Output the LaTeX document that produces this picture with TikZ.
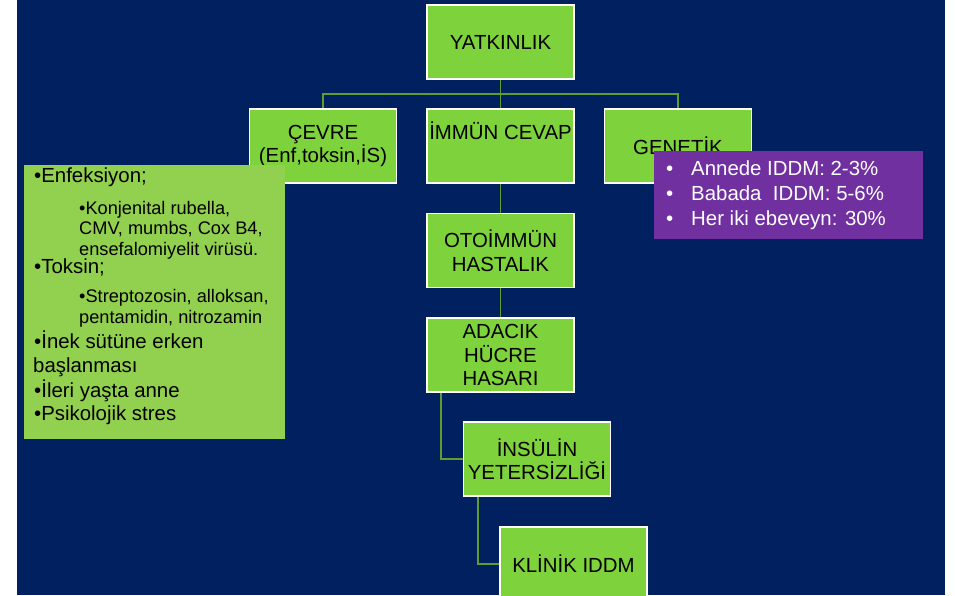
\documentclass[tikz,border=0pt]{standalone}
\usepackage{fontspec}
\setmainfont{Liberation Sans}
\usetikzlibrary{backgrounds}
\definecolor{navy}{HTML}{002060}
\definecolor{boxgreen}{HTML}{7ED23C}
\definecolor{txtgreen}{HTML}{92D050}
\definecolor{linegreen}{HTML}{5E9E2E}
\definecolor{purp}{HTML}{7030A0}
\begin{document}
\begin{tikzpicture}[x=1pt,y=-1pt,
  box/.style={draw=white, line width=1.6pt, fill=boxgreen, minimum width=147pt, minimum height=74pt, inner sep=0pt, align=center, text=black, font=\fontsize{20.4}{23.5}\selectfont},
  conn/.style={draw=linegreen, line width=1.8pt},
  big/.style={anchor=base west, inner sep=0pt, text=black, font=\fontsize{20.4}{24}\selectfont},
  small/.style={anchor=base west, inner sep=0pt, text=black, font=\fontsize{18.2}{20}\selectfont},
  ptxt/.style={anchor=base west, inner sep=0pt, text=white, font=\fontsize{20.4}{24}\selectfont}]
\useasboundingbox (0,0) rectangle (955,595);

% boxes
\node[box] (yat) at (500.5,42) {YATKINLIK};
\node[box] (cevre) at (323,146) {ÇEVRE\\(Enf,toksin,İS)};
\node[box] (immun) at (500.5,146) {İMMÜN CEVAP\\\strut};
\node[box] (gen) at (678,146) {GENETİK};
\node[box] (oto) at (500.5,250.5) {OTOİMMÜN\\HASTALIK};
\node[box] (ada) at (500.5,355) {ADACIK\\HÜCRE\\HASARI};
\node[box] (ins) at (537,459) {İNSÜLİN\\YETERSİZLİĞİ};
\node[box] (kli) at (573.5,564) {KLİNİK IDDM};

% left text box
\node[fill=txtgreen, anchor=north west, minimum width=261pt, minimum height=274pt, inner sep=0pt] (lbox) at (24,165) {};
\node[big] (l1) at (34,182) {•Enfeksiyon;};
\node[small] (l2) at (79,214.5) {•Konjenital rubella,};
\node[small] (l3) at (79,234.5) {CMV, mumbs, Cox B4,};
\node[small] (l4) at (79,255) {ensefalomiyelit virüsü.};
\node[big] (l5) at (34,273) {•Toksin;};
\node[small] (l6) at (79,302.5) {•Streptozosin, alloksan,};
\node[small] (l7) at (79,323) {pentamidin, nitrozamin};
\node[big] (l8) at (34,348) {•İnek sütüne erken};
\node[big] (l9) at (33,372) {başlanması};
\node[big] (l10) at (34,397) {•İleri yaşta anne};
\node[big] (l11) at (34,420) {•Psikolojik stres};

% purple box
\node[fill=purp, anchor=north west, minimum width=269pt, minimum height=88pt, inner sep=0pt] (pbox) at (654,151) {};
\node[ptxt] (b1) at (666,175) {•};
\node[ptxt] (p1) at (691,175) {Annede IDDM: 2-3\%};
\node[ptxt] (b2) at (666,200) {•};
\node[ptxt] (p2) at (691,200) {Babada\ \ IDDM: 5-6\%};
\node[ptxt] (b3) at (666,225) {•};
\node[ptxt] (p3) at (691,225) {Her iki ebeveyn: 30\%};

\begin{scope}[on background layer]
  \fill[white] (0,0) rectangle (955,595);
  \fill[navy] (17,0) rectangle (945,595);
  \coordinate (bus) at (500.5,94.3);
  \draw[conn] (yat.south) -- (immun.north);
  \draw[conn] (cevre.north) |- (bus) -| (gen.north);
  \draw[conn] (immun.south) -- (oto.north);
  \draw[conn] (oto.south) -- (ada.north);
  \draw[conn] ([xshift=14.7pt]ada.south west) |- (ins.west);
  \draw[conn] ([xshift=15pt]ins.south west) |- (kli.west);
\end{scope}
\end{tikzpicture}
\end{document}
